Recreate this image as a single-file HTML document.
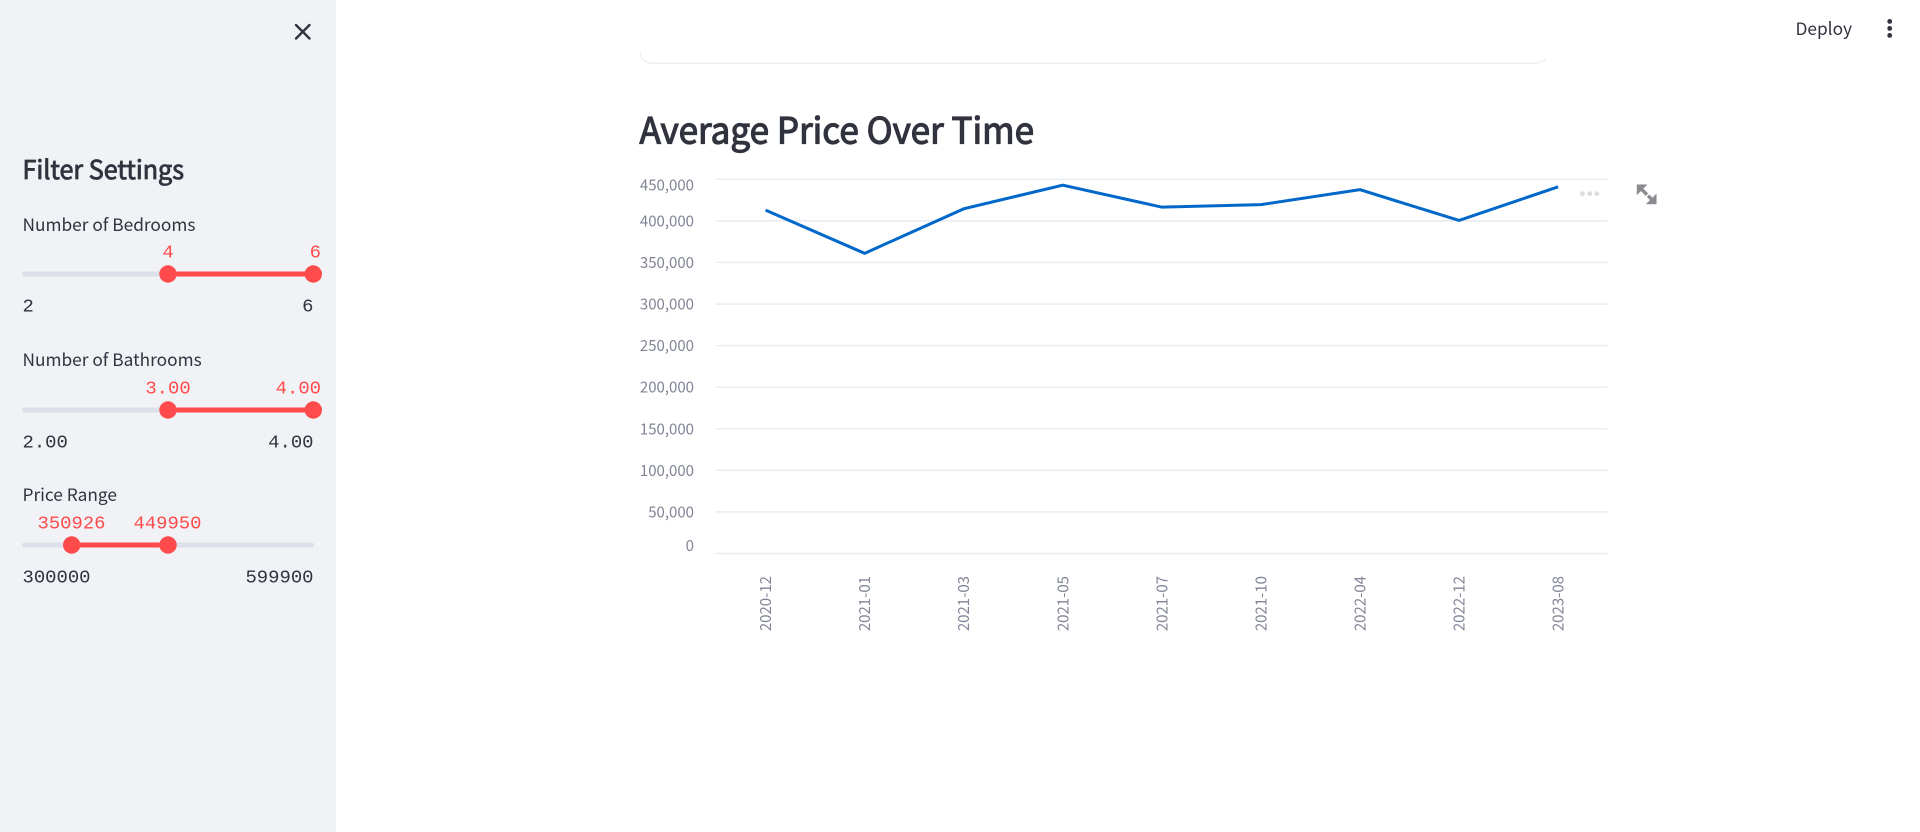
<!DOCTYPE html>
<html lang="en">
<head>
<meta charset="utf-8">
<title>Average Price Over Time</title>
<style>
html,body{margin:0;padding:0;width:1920px;height:832px;overflow:hidden;background:#fff}
svg{display:block;position:absolute;left:0;top:0}
.sans{font-family:"Noto Sans CJK SC","Liberation Sans",sans-serif}
.mono{font-family:"Liberation Mono","DejaVu Sans Mono",monospace;font-size:18.9px}
.dark{fill:#31333f}
.red{fill:#ff4b4b}
.lbl{font-size:17.3px;fill:#31333f}
.tick{font-size:15px;fill:#808495}
</style>
</head>
<body>
<svg id="page" width="1920" height="832" viewBox="0 0 1920 832" xmlns="http://www.w3.org/2000/svg">
  <rect x="0" y="0" width="336" height="832" fill="#f0f2f6"/>

  <g stroke="#31333f" stroke-width="2.4" stroke-linecap="round">
    <line x1="296" y1="25" x2="309.5" y2="38.5"/>
    <line x1="309.5" y1="25" x2="296" y2="38.5"/>
  </g>

  <text x="22.5" y="179" class="sans dark" font-size="26px" stroke="#31333f" stroke-width="0.85" textLength="161.5" lengthAdjust="spacingAndGlyphs">Filter Settings</text>

  <text x="22.5" y="231" class="sans lbl">Number of Bedrooms</text>
  <g>
    <rect x="22" y="271.5" width="292" height="5" rx="2.5" fill="#dce0e9"/>
    <rect x="168" y="271.5" width="145" height="5" fill="#ff4b4b"/>
    <circle cx="168" cy="274" r="8.7" fill="#ff4b4b"/>
    <circle cx="313.3" cy="274" r="8.7" fill="#ff4b4b"/>
    <text x="168" y="257.5" text-anchor="middle" class="mono red">4</text>
    <text x="321" y="257.5" text-anchor="end" class="mono red">6</text>
    <text x="22.5" y="311.5" class="mono dark">2</text>
    <text x="313.5" y="311.5" text-anchor="end" class="mono dark">6</text>
  </g>

  <text x="22.5" y="366" class="sans lbl">Number of Bathrooms</text>
  <g>
    <rect x="22" y="407.5" width="292" height="5" rx="2.5" fill="#dce0e9"/>
    <rect x="168" y="407.5" width="145" height="5" fill="#ff4b4b"/>
    <circle cx="168" cy="410" r="8.7" fill="#ff4b4b"/>
    <circle cx="313.3" cy="410" r="8.7" fill="#ff4b4b"/>
    <text x="168" y="393.5" text-anchor="middle" class="mono red">3.00</text>
    <text x="321" y="393.5" text-anchor="end" class="mono red">4.00</text>
    <text x="22.5" y="447.5" class="mono dark">2.00</text>
    <text x="313.5" y="447.5" text-anchor="end" class="mono dark">4.00</text>
  </g>

  <text x="22.5" y="501" class="sans lbl">Price Range</text>
  <g>
    <rect x="22" y="542.5" width="292" height="5" rx="2.5" fill="#dce0e9"/>
    <rect x="71.7" y="542.5" width="96.3" height="5" fill="#ff4b4b"/>
    <circle cx="71.7" cy="545" r="8.7" fill="#ff4b4b"/>
    <circle cx="168" cy="545" r="8.7" fill="#ff4b4b"/>
    <text x="71.5" y="528.5" text-anchor="middle" class="mono red">350926</text>
    <text x="167.5" y="528.5" text-anchor="middle" class="mono red">449950</text>
    <text x="22.5" y="582.5" class="mono dark">300000</text>
    <text x="313.5" y="582.5" text-anchor="end" class="mono dark">599900</text>
  </g>

  <text x="1795.5" y="35" class="sans dark" font-size="17.3px">Deploy</text>
  <g fill="#31333f">
    <circle cx="1889.7" cy="21.4" r="2.4"/>
    <circle cx="1889.7" cy="28.4" r="2.4"/>
    <circle cx="1889.7" cy="35.4" r="2.4"/>
  </g>

  <path d="M640 53 Q642 63 652 63.3 L1535 63.3 Q1543 63 1546 58" fill="none" stroke="#e8eaef" stroke-width="1"/>

  <text x="639.5" y="143.5" class="sans dark" font-size="36px" stroke="#31333f" stroke-width="1.15" textLength="394.5" lengthAdjust="spacingAndGlyphs">Average Price Over Time</text>

  <g id="chart"></g>

  <g fill="#dcdcdc">
    <circle cx="1582.4" cy="193.7" r="2.4"/>
    <circle cx="1589.7" cy="193.7" r="2.4"/>
    <circle cx="1596.8" cy="193.7" r="2.4"/>
  </g>
  <g fill="#8b8b90" stroke="#8b8b90">
    <path d="M1637 184.7 L1647 184.7 L1637 194.7 Z" stroke-width="0.5"/>
    <line x1="1640" y1="187.7" x2="1647" y2="194.7" stroke-width="3.4"/>
    <path d="M1656.3 204 L1646.3 204 L1656.3 194 Z" stroke-width="0.5"/>
    <line x1="1653.3" y1="201" x2="1648" y2="195.7" stroke-width="3.4"/>
  </g>
</svg>
<script>
const categories = ["2020-12","2021-01","2021-03","2021-05","2021-07","2021-10","2022-04","2022-12","2023-08"];
const avgPrice = [413000,361000,414500,443000,416500,419500,437500,400500,441000];
const yTickValues = [0,50000,100000,150000,200000,250000,300000,350000,400000,450000];
const yTickLabels = ["0","50,000","100,000","150,000","200,000","250,000","300,000","350,000","400,000","450,000"];

const NS = 'http://www.w3.org/2000/svg';
const chart = document.getElementById('chart');
const plot = {left:716, right:1607.7, top:179.3, bottom:553.5};
const yMax = yTickValues[yTickValues.length - 1];
function yScale(v){ return plot.bottom - (v / yMax) * (plot.bottom - plot.top); }
function xScale(i){ return plot.left + (i + 0.5) * (plot.right - plot.left) / categories.length; }
function mk(tag, attrs){
  const el = document.createElementNS(NS, tag);
  for (const k in attrs) el.setAttribute(k, attrs[k]);
  return el;
}

yTickValues.forEach(function(v, i){
  const y = yScale(v);
  const grid = mk('line', {x1:plot.left, x2:plot.right, y1:y, y2:y, stroke:'#e6eaf1', 'stroke-width':1.4});
  
  
  chart.appendChild(grid);

  let ly = y + 5.5;
  if (i === 0) ly = y - 2.5;
  if (i === yTickValues.length - 1) ly = y + 11;
  const t = mk('text', {x:694, y:ly, 'text-anchor':'end', 'class':'sans tick'});
  t.textContent = yTickLabels[i];
  
  
  chart.appendChild(t);
});

categories.forEach(function(c, i){
  const x = xScale(i) + 5.5;
  const t = mk('text', {x:x, y:576, transform:'rotate(-90 ' + x + ' 576)', 'text-anchor':'end', 'class':'sans tick'});
  t.textContent = c;
  
  
  chart.appendChild(t);
});

const pts = avgPrice.map(function(v, i){ return xScale(i) + ',' + yScale(v); }).join(' ');
const line = mk('polyline', {points:pts, fill:'none', stroke:'#0068c9', 'stroke-width':3, 'stroke-linejoin':'miter'});


chart.appendChild(line);
</script>
</body>
</html>
